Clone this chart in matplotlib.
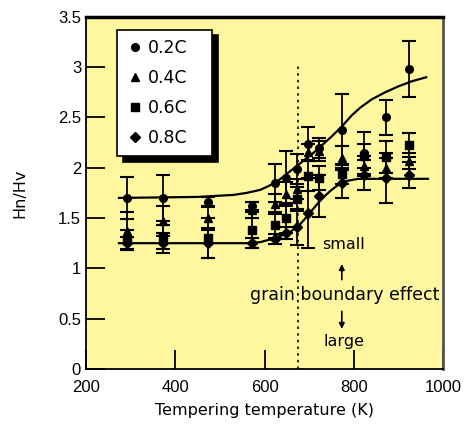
import matplotlib
matplotlib.use("Agg")
import matplotlib.pyplot as plt
from matplotlib.lines import Line2D

plt.rcParams['font.family'] = ['Liberation Sans', 'DejaVu Sans']

# Tempering temperatures (K)
temps = [293, 373, 473, 573, 623, 648, 673, 698, 723, 773, 823, 873, 923]

labels = ["0.2C", "0.4C", "0.6C", "0.8C"]
markers = ["o", "^", "s", "D"]

h_02 = [1.70, 1.70, 1.66, 1.62, 1.85, 1.90, 1.99, 2.24, 2.20, 2.38, 2.15, 2.50, 2.98]
h_04 = [1.37, 1.47, 1.50, 1.58, 1.64, 1.74, 1.79, 2.16, 2.17, 2.10, 2.02, 2.00, 2.07]
h_06 = [1.28, 1.31, 1.30, 1.38, 1.43, 1.50, 1.69, 1.92, 1.90, 1.94, 2.12, 2.11, 2.23]
h_08 = [1.25, 1.25, 1.25, 1.25, 1.29, 1.35, 1.41, 1.55, 1.72, 1.85, 1.93, 1.90, 1.93]

e_02 = [0.21, 0.23, 0.05, 0.04, 0.19, 0.27, 0.15, 0.17, 0.10, 0.35, 0.21, 0.17, 0.28]
e_04 = [0.19, 0.15, 0.12, 0.08, 0.10, 0.12, 0.10, 0.08, 0.10, 0.12, 0.10, 0.10, 0.08]
e_06 = [0.10, 0.12, 0.20, 0.18, 0.13, 0.15, 0.12, 0.15, 0.12, 0.10, 0.12, 0.16, 0.12]
e_08 = [0.06, 0.10, 0.15, 0.05, 0.05, 0.06, 0.18, 0.35, 0.21, 0.15, 0.15, 0.25, 0.13]

# Fitted trend curves
upper_t = [274, 450, 530, 560, 590, 610, 630, 650, 670, 690, 710, 730, 750, 773,
           795, 815, 840, 870, 900, 930, 962]
upper_h = [1.70, 1.71, 1.73, 1.75, 1.78, 1.82, 1.87, 1.94, 2.01, 2.08, 2.15, 2.23,
           2.31, 2.41, 2.52, 2.60, 2.68, 2.75, 2.81, 2.86, 2.90]
lower_t = [274, 560, 590, 615, 640, 660, 676, 690, 705, 720, 735, 750, 765, 785, 810, 966]
lower_h = [1.25, 1.25, 1.26, 1.29, 1.33, 1.37, 1.42, 1.49, 1.57, 1.65, 1.72, 1.78,
           1.83, 1.87, 1.89, 1.89]

fig = plt.figure(figsize=(4.67, 4.33), dpi=100)
ax = fig.add_axes([0.184, 0.148, 0.765, 0.813])
ax.set_facecolor('#fff7a0')

ax.plot(upper_t, upper_h, color='black', lw=1.6, zorder=3)
ax.plot(lower_t, lower_h, color='black', lw=1.6, zorder=3)

for vals, errs, m in zip([h_02, h_04, h_06, h_08], [e_02, e_04, e_06, e_08], markers):
    ax.errorbar(temps, vals, yerr=errs, fmt=m, color='black', ms=5.5 if m != 'D' else 5,
                ecolor='black', elinewidth=1.3, capsize=5, capthick=1.5, zorder=4)

ax.axvline(675, ymin=0, ymax=3.03 / 3.5, color='black', ls=(0, (1.5, 2.5)), lw=1.2, zorder=2)

tf = ['DejaVu Sans']
ax.text(778, 1.24, "small", ha='center', va='center', fontsize=11.5, family=tf)
ax.text(780, 0.73, "grain boundary effect", ha='center', va='center', fontsize=12.5, family=tf)
ax.text(778, 0.27, "large", ha='center', va='center', fontsize=11.5, family=tf)
ax.annotate("", xy=(773, 1.07), xytext=(773, 0.86),
            arrowprops=dict(arrowstyle='-|>', color='black', lw=1.2, mutation_scale=8))
ax.annotate("", xy=(773, 0.37), xytext=(773, 0.60),
            arrowprops=dict(arrowstyle='-|>', color='black', lw=1.2, mutation_scale=8))

ax.set_xlim(200, 1000)
ax.set_ylim(0, 3.5)
ax.set_xticks([200, 400, 600, 800, 1000])
ax.set_yticks([0, 0.5, 1, 1.5, 2, 2.5, 3, 3.5])
ax.set_yticklabels(['0', '0.5', '1', '1.5', '2', '2.5', '3', '3.5'])
ax.tick_params(direction='in', length=14, width=1.3, labelsize=12, top=False, right=False)
ax.tick_params(axis='x', pad=8)
ax.set_xlabel("Tempering temperature (K)", fontsize=11.5, family=tf, labelpad=6)
ax.set_ylabel("Hn/Hv", fontsize=11.5, family=tf, labelpad=22)
for s in ['left', 'bottom']:
    ax.spines[s].set_linewidth(1.3)
ax.spines['top'].set_linewidth(2.5)
ax.spines['right'].set_linewidth(2.0)
ax.spines['right'].set_color('#555555')

handles = [Line2D([], [], ls='none', marker=m, color='black', ms=5.5 if m != 'D' else 5)
           for m in markers]
leg = ax.legend(handles, labels, loc='upper left',
                bbox_to_anchor=(0.087, 0.60, 0.266, 0.363), mode='expand', frameon=True,
                fancybox=False, shadow={'color': 'black', 'alpha': 1.0, 'ox': 4, 'oy': -4},
                edgecolor='black', framealpha=1.0, handletextpad=0.2, handlelength=1.0,
                labelspacing=0.68, borderpad=0.55, borderaxespad=0,
                prop={'family': tf, 'size': 12.5})
leg.get_frame().set_linewidth(1.2)

fig.savefig("out.png", dpi=100, facecolor='white')
